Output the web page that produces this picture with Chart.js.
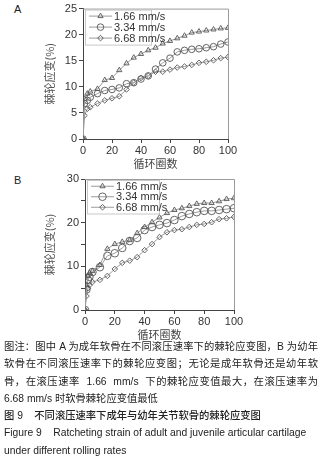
<!DOCTYPE html>
<html>
<head>
<meta charset="utf-8">
<script src="https://cdn.jsdelivr.net/npm/chart.js@4.4.0/dist/chart.umd.min.js"></script>
<style>
  html, body { margin: 0; padding: 0; background: #fff; }
  body { width: 324px; height: 456px; position: relative; overflow: hidden;
         font-family: "Liberation Sans", Arial, "Noto Sans CJK SC", sans-serif; color: #222; }
  .panel { position: absolute; left: 0; width: 324px; }
  .tag { position: absolute; left: 14px; font-size: 11px; color: #222; }
  .caption { position: absolute; left: 4px; width: 314px; font-size: 10.3px; line-height: 17.3px;
             font-family: "Liberation Sans", Arial, "Noto Sans CJK SC", sans-serif; }
  .note { text-align: justify; text-align-last: left; }
  .fig { font-weight: 500; }
</style>
</head>
<body>
<div class="tag" style="top:3px">A</div>
<div class="panel" style="top:0;height:170px"><canvas id="chartA" width="324" height="170"></canvas></div>
<div class="tag" style="top:174px">B</div>
<div class="panel" style="top:170px;height:171px"><canvas id="chartB" width="324" height="171"></canvas></div>

<div class="caption" style="top:338px">
  <div class="note">图注：图中 A 为成年软骨在不同滚压速率下的棘轮应变图，B 为幼年软骨在不同滚压速率下的棘轮应变图；无论是成年软骨还是幼年软骨，在滚压速率&nbsp; 1.66&nbsp; mm/s&nbsp; 下的棘轮应变值最大，在滚压速率为 6.68 mm/s 时软骨棘轮应变值最低</div>
  <div class="fig">图 9&nbsp;&nbsp;&nbsp;&nbsp;不同滚压速率下成年与幼年关节软骨的棘轮应变图</div>
  <div>Figure 9&nbsp;&nbsp;&nbsp;&nbsp;Ratcheting strain of adult and juvenile articular cartilage<br>under different rolling rates</div>
</div>

<script>
const seriesLabels = ["1.66 mm/s", "3.34 mm/s", "6.68 mm/s"];
const markerStyles = ["triangle", "circle", "rectRot"];

// panel A: adult cartilage
const cyclesA = [0, 1, 3, 5, 10, 15, 20, 25, 30, 35, 40, 45, 50, 55, 60, 65, 70, 75, 80, 85, 90, 95, 100];
const a166 = [0, 7.7, 8.7, 9.1, 9.6, 11.3, 11.7, 13.2, 14.5, 15.6, 16.3, 17.0, 17.5, 18.3, 18.8, 19.3, 19.8, 20.4, 20.6, 20.8, 21.0, 21.2, 21.3];
const a334 = [0, 6.8, 7.4, 8.0, 8.7, 9.3, 9.5, 9.8, 10.6, 10.8, 11.5, 12.1, 13.4, 14.6, 15.5, 16.7, 17.0, 17.2, 17.3, 17.5, 17.7, 18.2, 18.6];
const a668 = [0, 4.5, 5.8, 6.1, 6.8, 7.4, 7.8, 8.2, 9.5, 10.8, 11.7, 12.1, 12.9, 12.9, 13.3, 13.7, 13.9, 14.2, 14.6, 14.8, 15.1, 15.5, 15.7];

// panel B: juvenile cartilage
const cyclesB = [0, 1, 2, 3, 5, 10, 15, 20, 25, 30, 35, 40, 45, 50, 55, 60, 65, 70, 75, 80, 85, 90, 95, 100];
const b166 = [0, 5.7, 7.8, 8.5, 8.9, 10.3, 14.0, 15.1, 15.6, 16.0, 17.6, 19.0, 20.1, 21.2, 22.2, 22.9, 23.3, 23.8, 24.3, 24.5, 24.5, 24.9, 25.4, 25.6];
const b334 = [0, 4.7, 6.9, 7.6, 8.7, 9.8, 12.4, 13.0, 14.2, 15.8, 16.5, 18.3, 19.0, 19.5, 19.9, 20.6, 21.5, 22.0, 22.4, 22.7, 22.7, 22.9, 23.1, 23.3];
const b668 = [0, 3.2, 5.0, 5.7, 6.4, 6.9, 7.8, 9.4, 10.8, 11.3, 12.1, 13.7, 15.1, 16.7, 17.8, 18.3, 18.5, 19.0, 19.5, 19.7, 20.1, 20.8, 21.0, 21.3];

const xTicks = [0, 20, 40, 60, 80, 100];
const yTicksA = [0, 5, 10, 15, 20, 25];
const yTicksB = [0, 10, 20, 30];
const yTitle = "棘轮应变(%)";
const xTitle = "循环圈数";

const tickFont = { family: "'Liberation Sans', Arial, sans-serif", size: 11 };
const cjkFont = { family: "'Noto Sans CJK SC', sans-serif", size: 11 };

function makeSets(cycles, lists, radii) {
  return lists.map((vals, i) => ({
    label: seriesLabels[i],
    data: cycles.map((c, j) => ({ x: c, y: vals[j] })),
    borderColor: "#9a9a9a",
    borderWidth: 1,
    pointStyle: markerStyles[i],
    pointRadius: radii[i],
    pointBorderColor: "#555",
    pointBackgroundColor: "rgba(255,255,255,0)",
    pointBorderWidth: 0.9,
    tension: 0,
  }));
}

// boxed legend inside the plot + grey top/right frame
const framePlugin = {
  id: "frame",
  afterDatasetsDraw(chart, args, opts) {
    const { ctx, chartArea: a } = chart;
    ctx.save();
    ctx.strokeStyle = "#9a9a9a";
    ctx.lineWidth = 1;
    ctx.beginPath();
    ctx.moveTo(a.left, a.top + 0.5);
    ctx.lineTo(a.right + 0.5, a.top + 0.5);
    ctx.lineTo(a.right + 0.5, a.bottom);
    ctx.stroke();

    const bx = a.left + opts.dx, by = a.top + opts.dy;
    const rowH = opts.rowH;
    ctx.strokeStyle = "#c8c8c8";
    ctx.strokeRect(bx + 0.5, by + 0.5, opts.w, rowH * 3 + 2);
    ctx.font = "11px 'Liberation Sans', Arial, sans-serif";
    ctx.textBaseline = "middle";
    chart.data.datasets.forEach((ds, i) => {
      const y = by + 1 + rowH * (i + 0.5);
      ctx.strokeStyle = "#9a9a9a";
      ctx.lineWidth = 1;
      ctx.beginPath();
      ctx.moveTo(bx + 4, y);
      ctx.lineTo(bx + 27, y);
      ctx.stroke();
      ctx.fillStyle = "rgba(255,255,255,0)";
      ctx.strokeStyle = "#555";
      ctx.lineWidth = ds.pointBorderWidth;
      Chart.helpers.drawPoint(ctx, {
        pointStyle: ds.pointStyle, radius: ds.pointRadius, rotation: 0,
        borderWidth: ds.pointBorderWidth,
      }, bx + 15.5, y);
      ctx.fillStyle = "#333";
      ctx.fillText(ds.label, bx + 29, y + 0.5);
    });
    ctx.restore();
  },
};

function makeChart(id, cycles, lists, radii, yMax, yStep, yLabels, geo) {
  return new Chart(document.getElementById(id), {
    type: "line",
    data: { datasets: makeSets(cycles, lists, radii) },
    plugins: [framePlugin],
    options: {
      responsive: false,
      animation: false,
      layout: { padding: { top: geo.top, right: geo.right, left: geo.pad, bottom: 0 } },
      plugins: {
        legend: { display: false },
        tooltip: { enabled: false },
        frame: geo.legend,
      },
      scales: {
        x: {
          type: "linear",
          min: 0, max: 100,
          afterFit: (s) => { s.height = geo.xh; },
          ticks: {
            stepSize: 10, font: tickFont, color: "#333", padding: 1, maxRotation: 0,
            callback: (v) => (xTicks.includes(v) ? v : ""),
          },
          grid: { drawOnChartArea: false, tickLength: 4, tickColor: "#444" },
          border: { color: "#444" },
          title: { display: true, text: xTitle, font: cjkFont, color: "#444", padding: { top: 1, bottom: 0 } },
        },
        y: {
          min: 0, max: yMax,
          afterFit: (s) => { s.width = geo.left - geo.pad; },
          ticks: {
            stepSize: yStep, font: tickFont, color: "#333", padding: 2,
            callback: (v) => (yLabels.includes(v) ? v : ""),
          },
          grid: { drawOnChartArea: false, tickLength: 4, tickColor: "#444" },
          border: { color: "#444" },
          title: { display: true, text: yTitle, font: cjkFont, color: "#555", padding: 0 },
        },
      },
    },
  });
}

makeChart("chartA", cyclesA, [a166, a334, a668], [3, 3.3, 2.8], 25, 2.5, yTicksA,
  { top: 7, right: 96, pad: 43, left: 83, xh: 31, legend: { dx: 2, dy: 1, w: 66, rowH: 11 } });
makeChart("chartB", cyclesB, [b166, b334, b668], [3, 3.8, 2.8], 30, 5, yTicksB,
  { top: 9, right: 90, pad: 43, left: 85, xh: 31, legend: { dx: 2, dy: 1, w: 72, rowH: 10.5 } });
</script>
</body>
</html>
